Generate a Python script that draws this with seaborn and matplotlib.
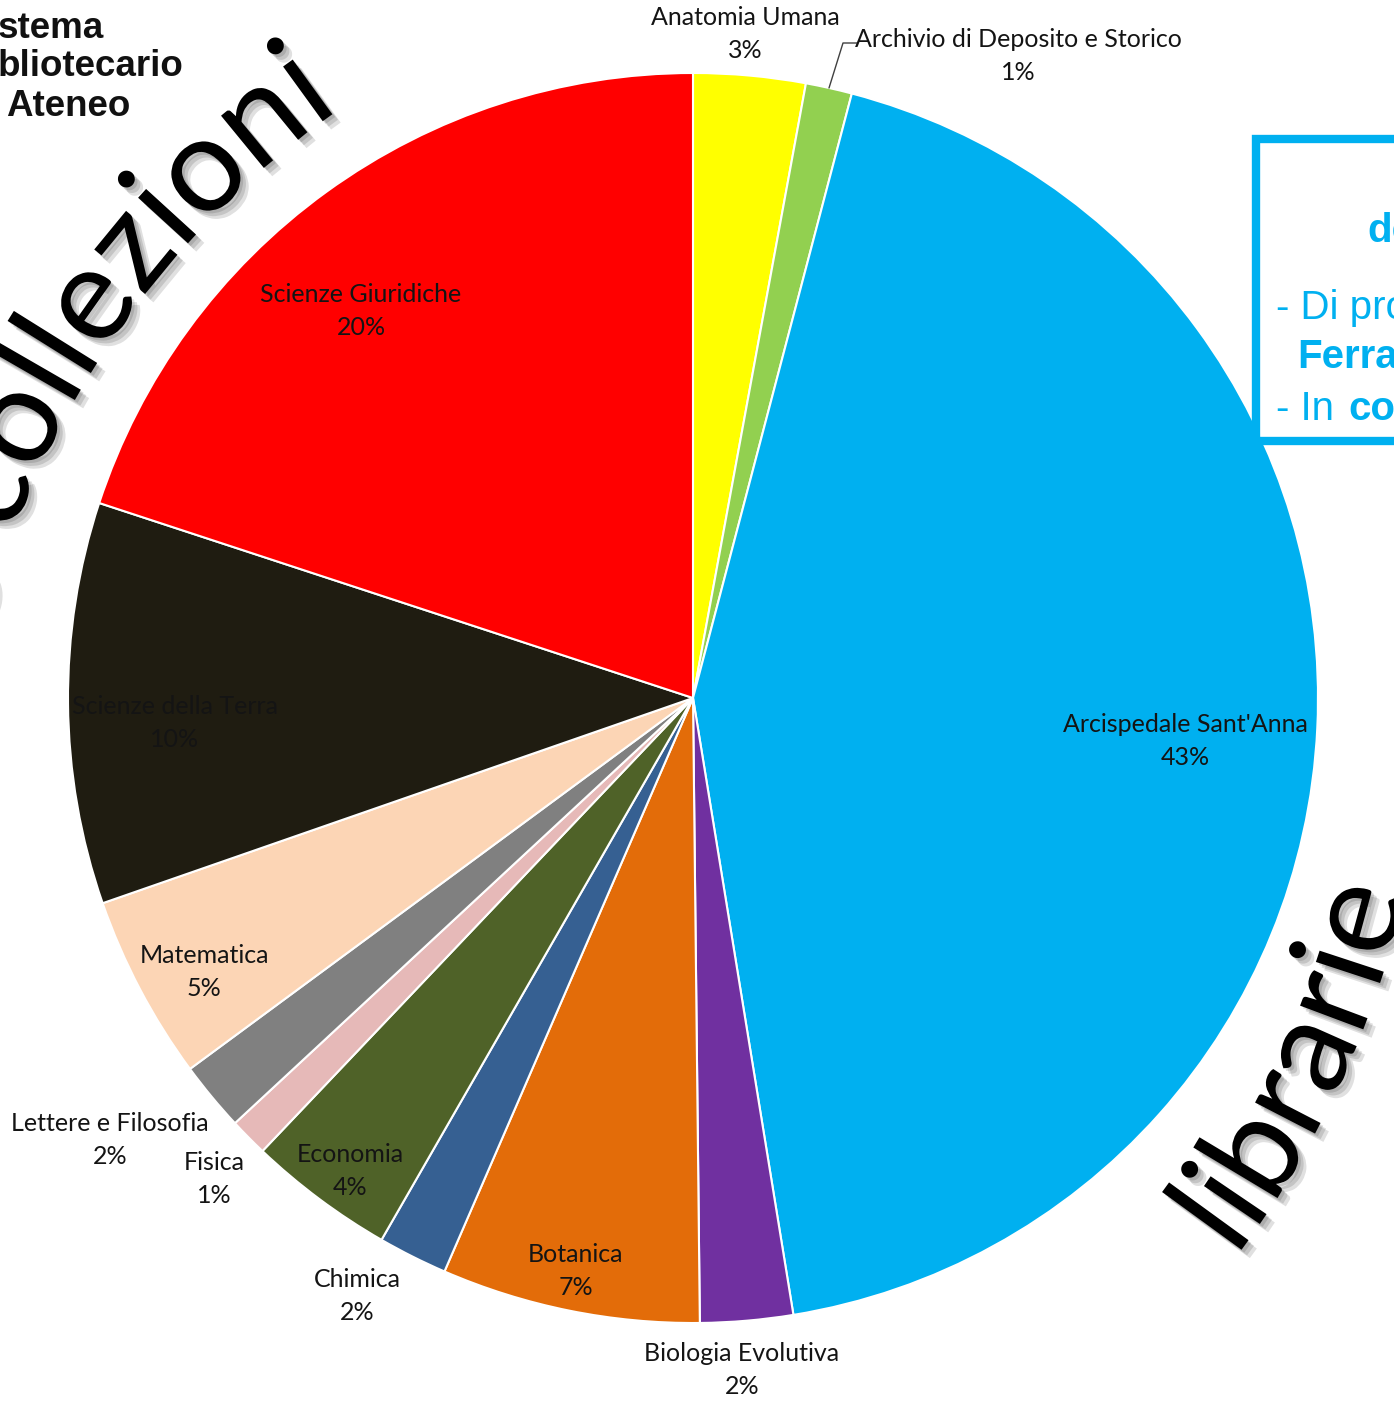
import math
import matplotlib
matplotlib.use('Agg')
import matplotlib.pyplot as plt
import matplotlib.patheffects as pe
from matplotlib.patches import Rectangle
from matplotlib.font_manager import FontProperties
import seaborn as sns

sns.set_theme(style='white')
plt.rcParams['font.family'] = ['Lato', 'DejaVu Sans']

# library collections by holder (percent of total)
names = ['Anatomia Umana', 'Archivio di Deposito e Storico', "Arcispedale Sant'Anna",
         'Biologia Evolutiva', 'Botanica', 'Chimica', 'Economia', 'Fisica',
         'Lettere e Filosofia', 'Matematica', 'Scienze della Terra', 'Scienze Giuridiche']
values = [2.9, 1.2, 43.45, 2.4, 6.7, 1.8, 3.8, 1.0, 1.8, 4.8, 10.4, 20.0]
colors = ['#FFFF00', '#92D050', '#00B0F0', '#7030A0', '#E36C09', '#366092',
          '#4F6228', '#E6B9B8', '#808080', '#FCD5B5', '#1F1C11', '#FF0000']

# label block centres, in pixels of the 1394x1403 picture
label_px = [(745, 34), (1018, 56), (1185, 741), (742, 1370), (576, 1271), (357, 1296),
            (350, 1171), (214, 1179), (110, 1140), (204, 972), (175, 723), (361, 311)]

W, H = 1394, 1403
CX, CY, R = 693, 698, 625


def px(x, y):
    return (x - CX) / R, (CY - y) / R


fig = plt.figure(figsize=(W / 100, H / 100), dpi=100)
ax = fig.add_axes([0, 0, 1, 1])

ax.pie(values, colors=colors, startangle=90, counterclock=False, radius=1,
       wedgeprops=dict(edgecolor='white', linewidth=1.5))
ax.set_xlim(-CX / R, (W - CX) / R)
ax.set_ylim(-(H - CY) / R, CY / R)
ax.axis('off')

total = sum(values)
for name, v, (lx, ly) in zip(names, values, label_px):
    x, y = px(lx, ly)
    ax.text(x, y, f'{name}\n{round(v / total * 100)}%', ha='center', va='center',
            fontsize=18, color='#141414', linespacing=1.5)

# leader line for the Archivio label
lx, ly = zip(px(829, 88), px(843, 43), px(857, 43))
ax.plot(lx, ly, color='#404040', lw=1)

# slide decorations around the chart
for txt, bx, yy in [('stema', -2, 28), ('bliotecario', -2, 67), ('Ateneo', 6, 106)]:
    x, y = px(bx, yy)
    ax.text(x, y, txt, ha='left', va='center', fontsize=26.5, fontweight='bold',
            family='Liberation Sans', color='#111111')

shadow = [pe.SimplePatchShadow(offset=(o, -o), shadow_rgbFace='#000000', alpha=0.12)
          for o in (2, 4, 6)] + [pe.Normal()]
renderer = fig.canvas.get_renderer()


def arc_text(word, idx, at, rot, k, size):
    # letters along an arc; letter idx sits with its baseline centre at `at` (px),
    # rotated by rot; k = turn in degrees per pixel along the baseline
    prop = FontProperties(family='Lato', size=size)
    wid = lambda s: renderer.get_text_width_height_descent(s, prop, ismath=False)[0] if s else 0
    centre = lambda i: (wid(word[:i]) + wid(word[:i + 1])) / 2
    ref = centre(idx)
    a0, kr = math.radians(rot), math.radians(k)
    for i, ch in enumerate(word):
        if ch == ' ':
            continue
        s = centre(i) - ref
        dx = (math.sin(a0 + kr * s) - math.sin(a0)) / kr
        dy = -(math.cos(a0 + kr * s) - math.cos(a0)) / kr
        x, y = px(at[0] + dx, at[1] - dy)
        ax.text(x, y, ch, rotation=rot + k * s, ha='center', va='baseline',
                rotation_mode='anchor', fontproperties=prop, color='black',
                path_effects=shadow)


arc_text('Le collezioni', 6, (94, 368), 58, -0.064, 96)
arc_text('librarie', 0, (1245, 1245), 54, 0.059, 96)

blue = '#00B0F0'
x0, y0 = px(1255.5, 441)
x1, y1 = px(1600, 139)
ax.add_patch(Rectangle((x0, y0), x1 - x0, y1 - y0, fill=False, edgecolor=blue, lw=6))
for txt, bx, by, bold in [('de', 1367, 242, True), ('- Di pro', 1276, 319, False),
                          ('Ferra', 1297, 368, True), ('- In ', 1276, 420, False)]:
    x, y = px(bx, by)
    ax.text(x, y, txt, ha='left', va='baseline', fontsize=29, color=blue,
            family='Liberation Sans', fontweight='bold' if bold else 'normal')
x, y = px(1348, 420)
ax.text(x, y, 'co', ha='left', va='baseline', fontsize=29, color=blue,
        family='Liberation Sans', fontweight='bold')

fig.savefig('out.png', dpi=100)
